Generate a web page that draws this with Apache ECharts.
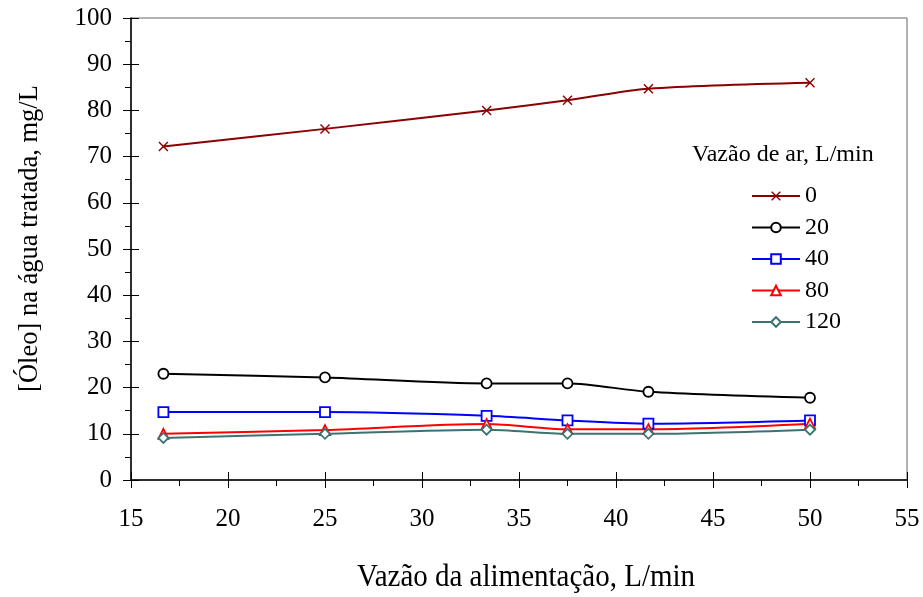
<!DOCTYPE html>
<html>
<head>
<meta charset="utf-8">
<script src="https://cdn.jsdelivr.net/npm/echarts@6/dist/echarts.min.js"></script>
<style>
html,body{margin:0;padding:0;background:#fff;}
#chart{width:923px;height:597px;}
</style>
</head>
<body>
<div id="chart"></div>
<script>
// Data
const feedFlow = [16.67, 25, 33.33, 37.5, 41.67, 50];
const seriesNames = ['0', '20', '40', '80', '120'];
const ar0 = [72.2, 76.0, 80.0, 82.2, 84.7, 86.0];
const ar20 = [23.0, 22.2, 20.9, 20.9, 19.1, 17.8];
const ar40 = [14.7, 14.7, 13.9, 12.9, 12.2, 12.9];
const ar80 = [10.0, 10.8, 12.1, 11.0, 11.0, 12.2];
const ar120 = [9.1, 10.0, 10.9, 10.0, 10.0, 10.9];
const xTitle = 'Vazão da alimentação, L/min';
const yTitle = '[Óleo] na água tratada, mg/L';
const legendTitle = 'Vazão de ar, L/min';

const FONT = '"Liberation Serif", "Times New Roman", serif';
const xPath = 'path://M0,1 L1,0 L5,4 L9,0 L10,1 L6,5 L10,9 L9,10 L5,6 L1,10 L0,9 L4,5 Z';

function pairs(ys) { return feedFlow.map((x, i) => [x, ys[i]]); }

const styles = [
  { data: ar0, color: '#8B0000', symbol: xPath, size: 10, fill: '#8B0000', bw: 0 },
  { data: ar20, color: '#000000', symbol: 'circle', size: 10, fill: '#ffffff', bw: 1.8 },
  { data: ar40, color: '#0000FF', symbol: 'rect', size: 10, fill: '#ffffff', bw: 1.8 },
  { data: ar80, color: '#FF0000', symbol: 'triangle', size: 10, fill: '#ffffff', bw: 1.8 },
  { data: ar120, color: '#3E7272', symbol: 'diamond', size: 10, fill: '#ffffff', bw: 1.8 }
];

const series = styles.map((s, i) => ({
  name: seriesNames[i],
  type: 'line',
  xAxisIndex: 0,
  yAxisIndex: 0,
  data: pairs(s.data),
  smooth: 0.3,
  symbol: s.symbol,
  symbolSize: s.size,
  showAllSymbol: true,
  lineStyle: { color: s.color, width: 2 },
  itemStyle: { color: s.fill, borderColor: s.color, borderWidth: s.bw },
  emphasis: { disabled: true },
  z: 3
}));

const chart = echarts.init(document.getElementById('chart'), null, { renderer: 'canvas' });
chart.setOption({
  animation: false,
  backgroundColor: '#ffffff',
  grid: { left: 131, right: 16, top: 18, bottom: 117, show: true, borderColor: '#666666', borderWidth: 1, backgroundColor: 'transparent' },
  xAxis: [
    {
      type: 'value', min: 15, max: 55, interval: 5, position: 'bottom',
      axisLine: { show: true, onZero: false, lineStyle: { color: '#000', width: 1.5 } },
      axisTick: { show: true, inside: false, length: 8, lineStyle: { color: '#000', width: 1 } },
      minorTick: { show: true, splitNumber: 2, length: 6, lineStyle: { color: '#000', width: 1 } },
      axisLabel: { color: '#000', fontFamily: FONT, fontSize: 25, margin: 27 },
      splitLine: { show: false }
    },
    {
      type: 'value', min: 15, max: 55, interval: 5, position: 'bottom',
      axisLine: { show: false },
      axisTick: { show: true, inside: true, length: 8, lineStyle: { color: '#000', width: 1 } },
      axisLabel: { show: false },
      splitLine: { show: false }
    }
  ],
  yAxis: [
    {
      type: 'value', min: 0, max: 100, interval: 10, position: 'left',
      axisLine: { show: true, onZero: false, lineStyle: { color: '#000', width: 1.5 } },
      axisTick: { show: true, inside: false, length: 8, lineStyle: { color: '#000', width: 1 } },
      minorTick: { show: true, splitNumber: 2, length: 6, lineStyle: { color: '#000', width: 1 } },
      axisLabel: { color: '#000', fontFamily: FONT, fontSize: 25, margin: 19 },
      splitLine: { show: false }
    },
    {
      type: 'value', min: 0, max: 100, interval: 10, position: 'left',
      axisLine: { show: false },
      axisTick: { show: true, inside: true, length: 8, lineStyle: { color: '#000', width: 1 } },
      axisLabel: { show: false },
      splitLine: { show: false }
    }
  ],
  legend: {
    orient: 'vertical',
    left: 746,
    top: 179,
    itemWidth: 48,
    itemHeight: 12,
    itemGap: 7.5,
    selectedMode: false,
    textStyle: { color: '#000', fontFamily: FONT, fontSize: 24 },
    data: seriesNames
  },
  graphic: [
    {
      type: 'text', left: 692, top: 143,
      style: { text: legendTitle, fill: '#000', font: '24px ' + FONT }
    },
    {
      type: 'text', x: 526, y: 577.5, scaleY: 1.1,
      style: { text: xTitle, fill: '#000', font: '29px ' + FONT, align: 'center', verticalAlign: 'middle' }
    },
    {
      type: 'text', x: 30, y: 238.5, rotation: Math.PI / 2,
      style: { text: yTitle, fill: '#000', font: '26.5px ' + FONT, align: 'center', verticalAlign: 'middle' }
    }
  ],
  series: series
});
</script>
</body>
</html>
